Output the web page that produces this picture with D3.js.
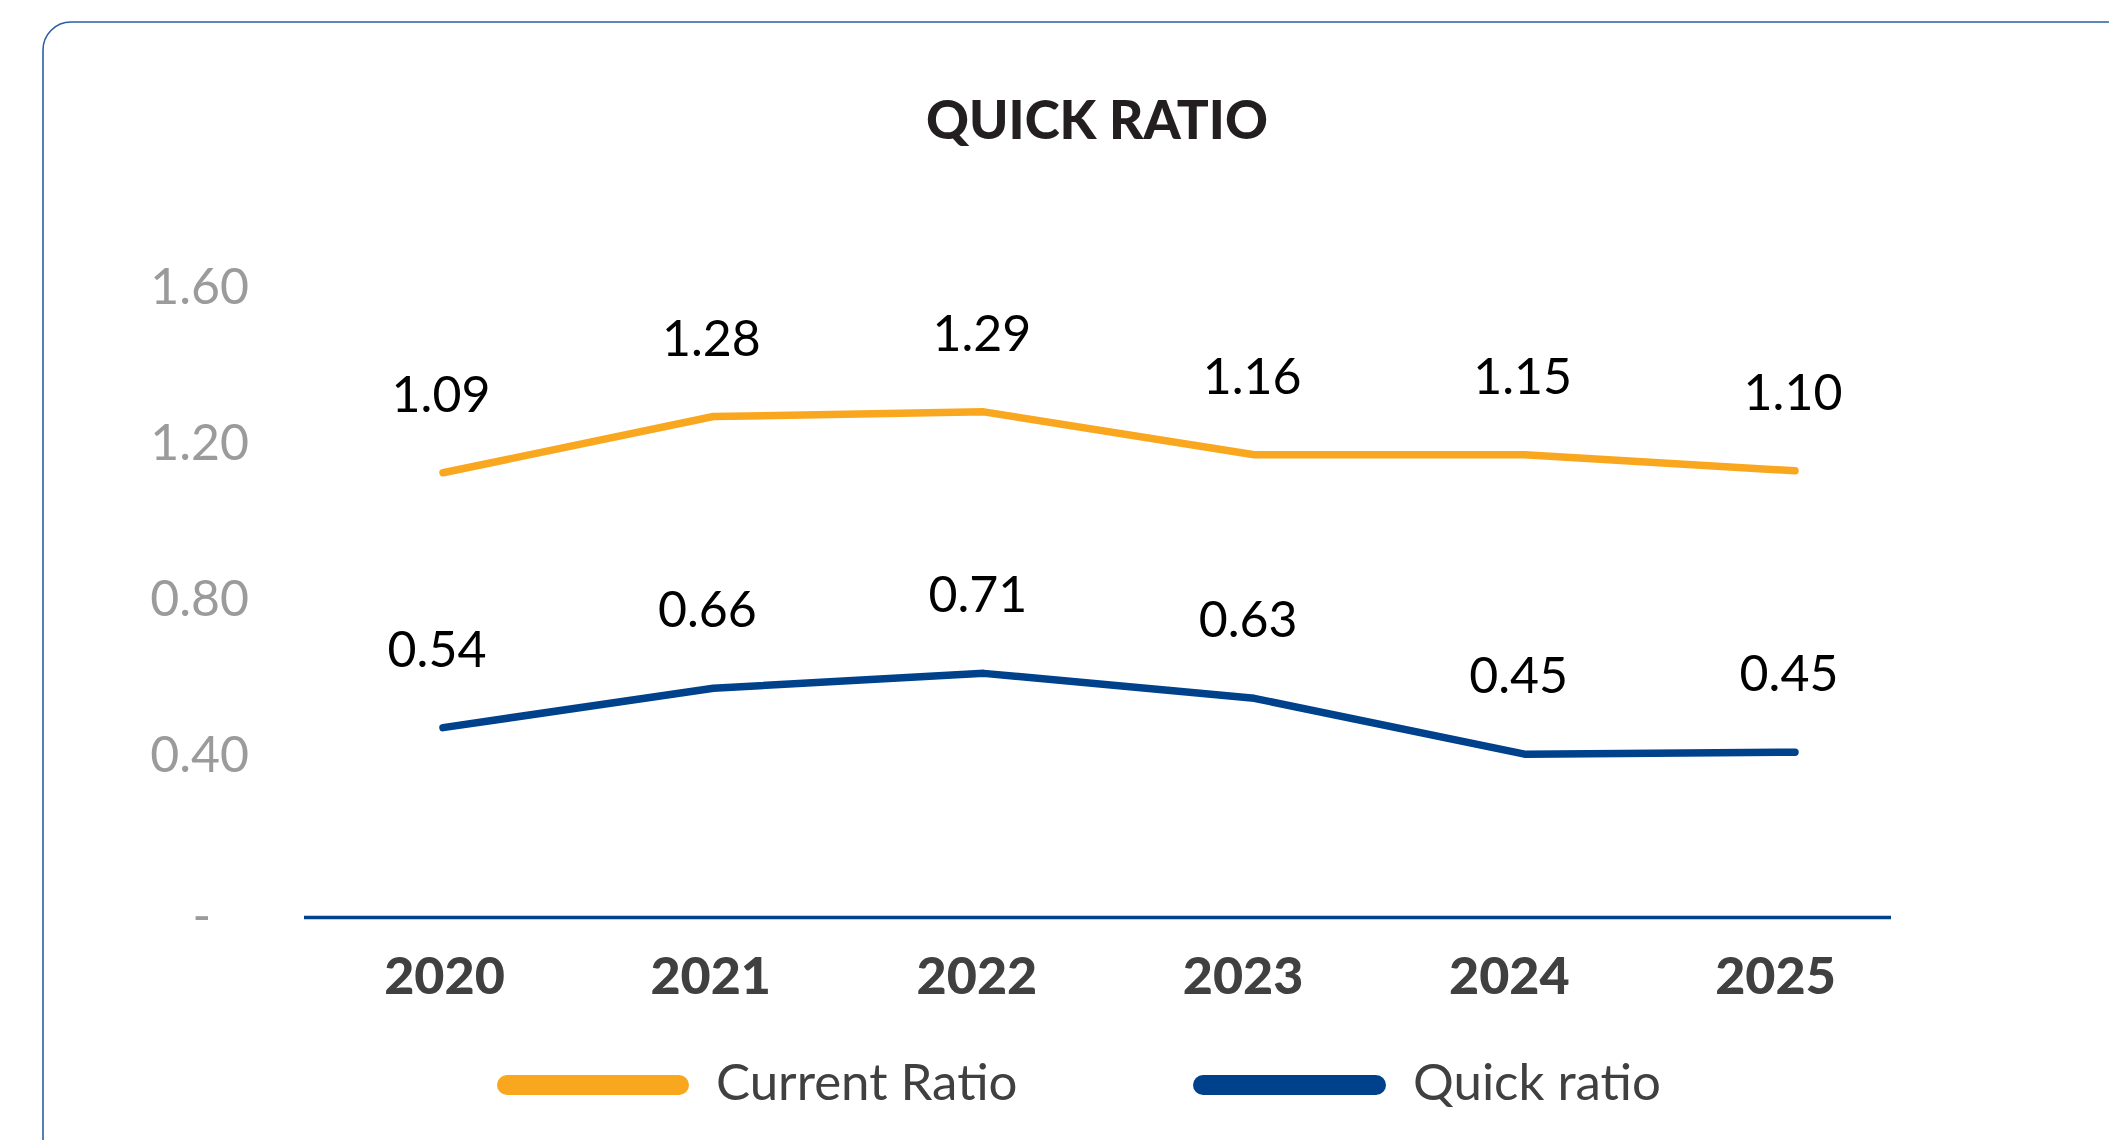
<!DOCTYPE html>
<html>
<head>
<meta charset="utf-8">
<script src="https://cdn.jsdelivr.net/npm/d3@7"></script>
<style>
  html, body { margin: 0; padding: 0; background: #ffffff; }
  svg { display: block; }
</style>
</head>
<body>
<svg id="chart" width="2109" height="1140"></svg>
<script>
// ---- data ----
const years = ["2020", "2021", "2022", "2023", "2024", "2025"];
// line positions as drawn in the picture
const currentRatio = [1.119, 1.263, 1.275, 1.165, 1.165, 1.124];
const quickRatio = [0.466, 0.567, 0.605, 0.541, 0.398, 0.403];
// printed data labels
const currentLabels = ["1.09", "1.28", "1.29", "1.16", "1.15", "1.10"];
const quickLabels = ["0.54", "0.66", "0.71", "0.63", "0.45", "0.45"];
const yTicks = [0, 0.4, 0.8, 1.2, 1.6];
const seriesNames = ["Current Ratio", "Quick ratio"];
const colors = ["#F9A71E", "#00418B"];
const title = "QUICK RATIO";

// ---- layout ----
const svg = d3.select("#chart");
const W = 2109, H = 1140;

// card
svg.append("rect")
  .attr("x", 43).attr("y", 22)
  .attr("width", W + 100).attr("height", H + 100)
  .attr("rx", 28).attr("ry", 28)
  .attr("fill", "#fff")
  .attr("stroke", "#2B5FA6").attr("stroke-width", 1.6);

// title
svg.append("text")
  .attr("x", 1097).attr("y", 139)
  .attr("text-anchor", "middle")
  .attr("font-family", "Lato, 'Open Sans', sans-serif")
  .attr("font-weight", 900)
  .attr("font-size", 53)
  .attr("fill", "#231F20")
  .text(title);

const y = d3.scaleLinear().domain([0, 1.6]).range([909.5, 285]);
const xLine = d3.scalePoint().domain(years).range([443, 1795]);
const xAxisScale = d3.scalePoint().domain(years).range([444, 1775]);

// y tick labels
const yAxis = d3.axisLeft(y).tickValues(yTicks).tickSize(0).tickPadding(0)
  .tickFormat(d => d === 0 ? "-" : d3.format(".2f")(d));
const yg = svg.append("g").attr("transform", "translate(249,0)").call(yAxis);
yg.select(".domain").remove();
yg.selectAll("text")
  .attr("font-family", "Lato, 'Open Sans', sans-serif")
  .attr("font-weight", 400)
  .attr("font-size", 50)
  .attr("fill", "#9B9B9B")
  .attr("dy", d => d === 0 ? "0.45em" : "0.36em")
  .attr("dx", d => d === 0 ? -38 : 0);

// x axis line (baseline)
svg.append("line")
  .attr("x1", 304).attr("x2", 1891)
  .attr("y1", y(0) + 8).attr("y2", y(0) + 8)
  .attr("stroke", "#00418B").attr("stroke-width", 3.5);

// x labels
const xAxis = d3.axisBottom(xAxisScale).tickSize(0).tickPadding(0);
const xg = svg.append("g").attr("transform", `translate(0,${y(0)})`).call(xAxis);
xg.select(".domain").remove();
xg.selectAll("text")
  .attr("font-family", "Lato, 'Open Sans', sans-serif")
  .attr("font-weight", 900)
  .attr("font-size", 52)
  .attr("fill", "#404040")
  .attr("y", 84)
  .attr("dy", 0);

// lines
const series = [
  { name: seriesNames[0], values: currentRatio, labels: currentLabels, color: colors[0], dx: -2 },
  { name: seriesNames[1], values: quickRatio, labels: quickLabels, color: colors[1], dx: -6 }
];
const line = d3.line().x((d, i) => xLine(years[i])).y(d => y(d));

series.forEach(s => {
  svg.append("path")
    .datum(s.values)
    .attr("d", line)
    .attr("fill", "none")
    .attr("stroke", s.color)
    .attr("stroke-width", 7.5)
    .attr("stroke-linejoin", "round")
    .attr("stroke-linecap", "round");

  svg.append("g").selectAll("text")
    .data(s.values)
    .join("text")
    .attr("x", (d, i) => xLine(years[i]) + s.dx)
    .attr("y", d => y(d) - 61)
    .attr("text-anchor", "middle")
    .attr("font-family", "Lato, 'Open Sans', sans-serif")
    .attr("font-weight", 400)
    .attr("font-size", 50)
    .attr("fill", "#000")
    .text((d, i) => s.labels[i]);
});

// legend
const legendItems = [
  { x: 497, w: 192, tx: 716 },
  { x: 1193, w: 193, tx: 1413 }
];
series.forEach((s, i) => {
  const L = legendItems[i];
  svg.append("rect")
    .attr("x", L.x).attr("y", 1075)
    .attr("width", L.w).attr("height", 20)
    .attr("rx", 10).attr("ry", 10)
    .attr("fill", s.color);
  svg.append("text")
    .attr("x", L.tx).attr("y", 1100)
    .attr("font-family", "Lato, 'Open Sans', sans-serif")
    .attr("font-weight", 400)
    .attr("font-size", 51)
    .attr("fill", "#404040")
    .text(s.name);
});
</script>
</body>
</html>
